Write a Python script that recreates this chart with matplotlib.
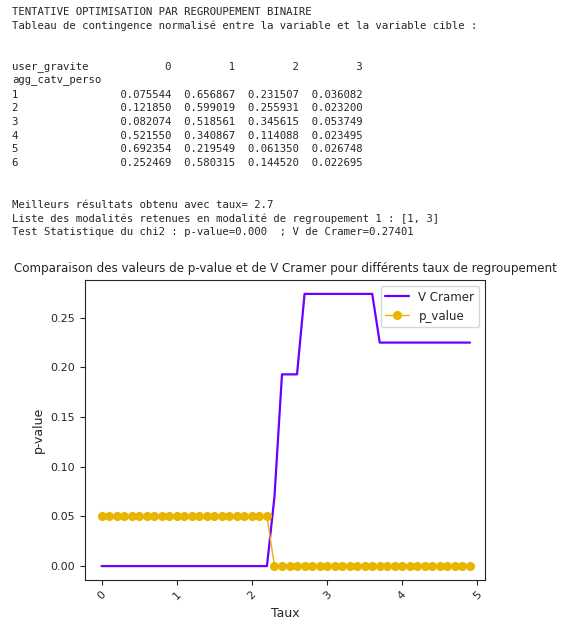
import matplotlib.pyplot as plt
import seaborn as sns
import numpy as np

taux = np.round(np.arange(0, 5.0, 0.1), 1)
p_value = [0.05] * 23 + [0.0] * 27
v_cramer = ([0.0] * 23 + [0.07, 0.193, 0.193, 0.193] + [0.274] * 10
            + [0.225] * 13)

cols = [0, 1, 2, 3]
rows = [1, 2, 3, 4, 5, 6]
table = [
    [0.075544, 0.656867, 0.231507, 0.036082],
    [0.121850, 0.599019, 0.255931, 0.023200],
    [0.082074, 0.518561, 0.345615, 0.053749],
    [0.521550, 0.340867, 0.114088, 0.023495],
    [0.692354, 0.219549, 0.061350, 0.026748],
    [0.252469, 0.580315, 0.144520, 0.022695],
]

lines = ["TENTATIVE OPTIMISATION PAR REGROUPEMENT BINAIRE",
         "Tableau de contingence normalisé entre la variable et la variable cible :",
         "", "",
         "user_gravite".ljust(15) + "".join("%10s" % c for c in cols),
         "agg_catv_perso"]
for r, vals in zip(rows, table):
    lines.append(str(r).ljust(15) + "".join("%10.6f" % v for v in vals))
lines += ["", "",
          "Meilleurs résultats obtenu avec taux= 2.7",
          "Liste des modalités retenues en modalité de regroupement 1 : [1, 3]",
          "Test Statistique du chi2 : p-value=0.000  ; V de Cramer=0.27401"]

sns.set_style("ticks")
fig = plt.figure(figsize=(5.78, 6.24), dpi=100)
for i, line in enumerate(lines):
    fig.text(12 / 578, 1 - (12 + i * 13.75) / 624, line, family="DejaVu Sans Mono",
             fontsize=7.7, va="center", ha="left")

ax = fig.add_axes([85 / 578, 1 - 580 / 624, 400 / 578, 300 / 624])
ax.plot(taux, v_cramer, color="#6a00ff", lw=1.6, label="V Cramer")
ax.plot(taux, p_value, color="#e8b400", marker="o", ms=5.5, lw=1, label="p_value")
ax.set_title("Comparaison des valeurs de p-value et de V Cramer pour différents taux de regroupement",
             fontsize=8.6, pad=6)
ax.set_xlabel("Taux", fontsize=9)
ax.set_ylabel("p-value", fontsize=9)
ax.set_xticks([0, 1, 2, 3, 4, 5])
ax.tick_params(axis="x", labelrotation=45, labelsize=8)
ax.tick_params(axis="y", labelsize=8)
ax.set_xlim(-0.22, 5.1)
ax.set_ylim(-0.014, 0.288)
ax.legend(loc="upper right", fontsize=8.5)
fig.savefig("out.png")
